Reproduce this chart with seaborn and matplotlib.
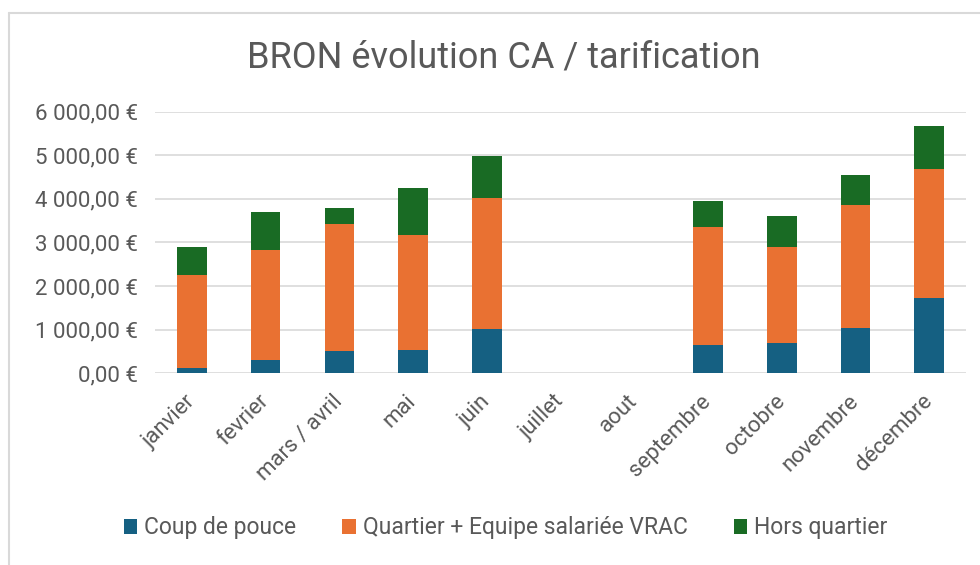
import matplotlib
matplotlib.use("Agg")
import matplotlib.pyplot as plt
import seaborn as sns
import pandas as pd
from matplotlib.lines import Line2D
from matplotlib.patches import Patch
from matplotlib.ticker import FuncFormatter

mois = ['janvier', 'fevrier', 'mars / avril', 'mai', 'juin', 'juillet', 'aout',
        'septembre', 'octobre', 'novembre', 'décembre']
coup_de_pouce = [115, 312, 518, 527, 1016, 0, 0, 656, 702, 1046, 1734]
quartier_vrac = [2140, 2516, 2906, 2645, 3005, 0, 0, 2693, 2195, 2821, 2959]
hors_quartier = [635, 872, 374, 1071, 956, 0, 0, 610, 704, 688, 979]

series = ['Coup de pouce', 'Quartier + Equipe salariée VRAC', 'Hors quartier']
couleurs = ['#156082', '#E97132', '#196B24']
gris = '#595959'


def euro(v, pos):
	s = f"{v:,.2f}".replace(',', ' ').replace('.', ',')
	return f"{s} €"


sns.set_style('white')
plt.rcParams['font.family'] = ['Roboto', 'DejaVu Sans']

df = pd.DataFrame({'mois': mois, 'cdp': coup_de_pouce,
                   'qv': quartier_vrac, 'hq': hors_quartier})
df['niv1'] = df['cdp']
df['niv2'] = df['cdp'] + df['qv']
df['niv3'] = df['niv2'] + df['hq']

fig = plt.figure(figsize=(9.8, 5.65), dpi=100)
ax = fig.add_axes([0.1582, 0.3393, 0.8276, 0.463])

# stacked bars drawn from the top segment down
for col, c in zip(['niv3', 'niv2', 'niv1'], couleurs[::-1]):
	sns.barplot(data=df, x='mois', y=col, order=mois, color=c, width=0.4,
	            errorbar=None, linewidth=0, saturation=1, ax=ax, zorder=3)

ax.set_ylim(0, 6000)
ax.set_yticks(range(0, 6001, 1000))
ax.yaxis.set_major_formatter(FuncFormatter(euro))
ax.grid(axis='y', color='#D9D9D9', linewidth=1.2, zorder=0)
ax.set_axisbelow(True)
for s in ax.spines.values():
	s.set_visible(False)
ax.set_xlabel('')
ax.set_ylabel('')
ax.set_xlim(-0.5, len(mois) - 0.5)
ax.tick_params(axis='both', length=0, colors=gris, labelsize=16)
ax.tick_params(axis='y', pad=12)
ax.tick_params(axis='x', pad=18)
plt.setp(ax.get_xticklabels(), rotation=45, ha='right', va='center', rotation_mode='anchor')

fig.text(0.514, 0.899, 'BRON évolution CA / tarification', ha='center', va='center',
         fontsize=26, color=gris)

handles = [Patch(facecolor=c, edgecolor='none') for c in couleurs]
fig.legend(handles, series, loc='center', bbox_to_anchor=(0.516, 0.0655), ncol=3,
           frameon=False, fontsize=16.5, labelcolor=gris, handlelength=0.6,
           handleheight=0.6, handletextpad=0.3, columnspacing=2.0)

# cadre du graphique
fig.add_artist(Line2D([8.5 / 980, 8.5 / 980], [0, 1 - 12.5 / 565], color='#D9D9D9', linewidth=1.5))
fig.add_artist(Line2D([8.5 / 980, 1], [1 - 12.5 / 565, 1 - 12.5 / 565], color='#D9D9D9', linewidth=1.5))

fig.savefig('out.png', dpi=100)
